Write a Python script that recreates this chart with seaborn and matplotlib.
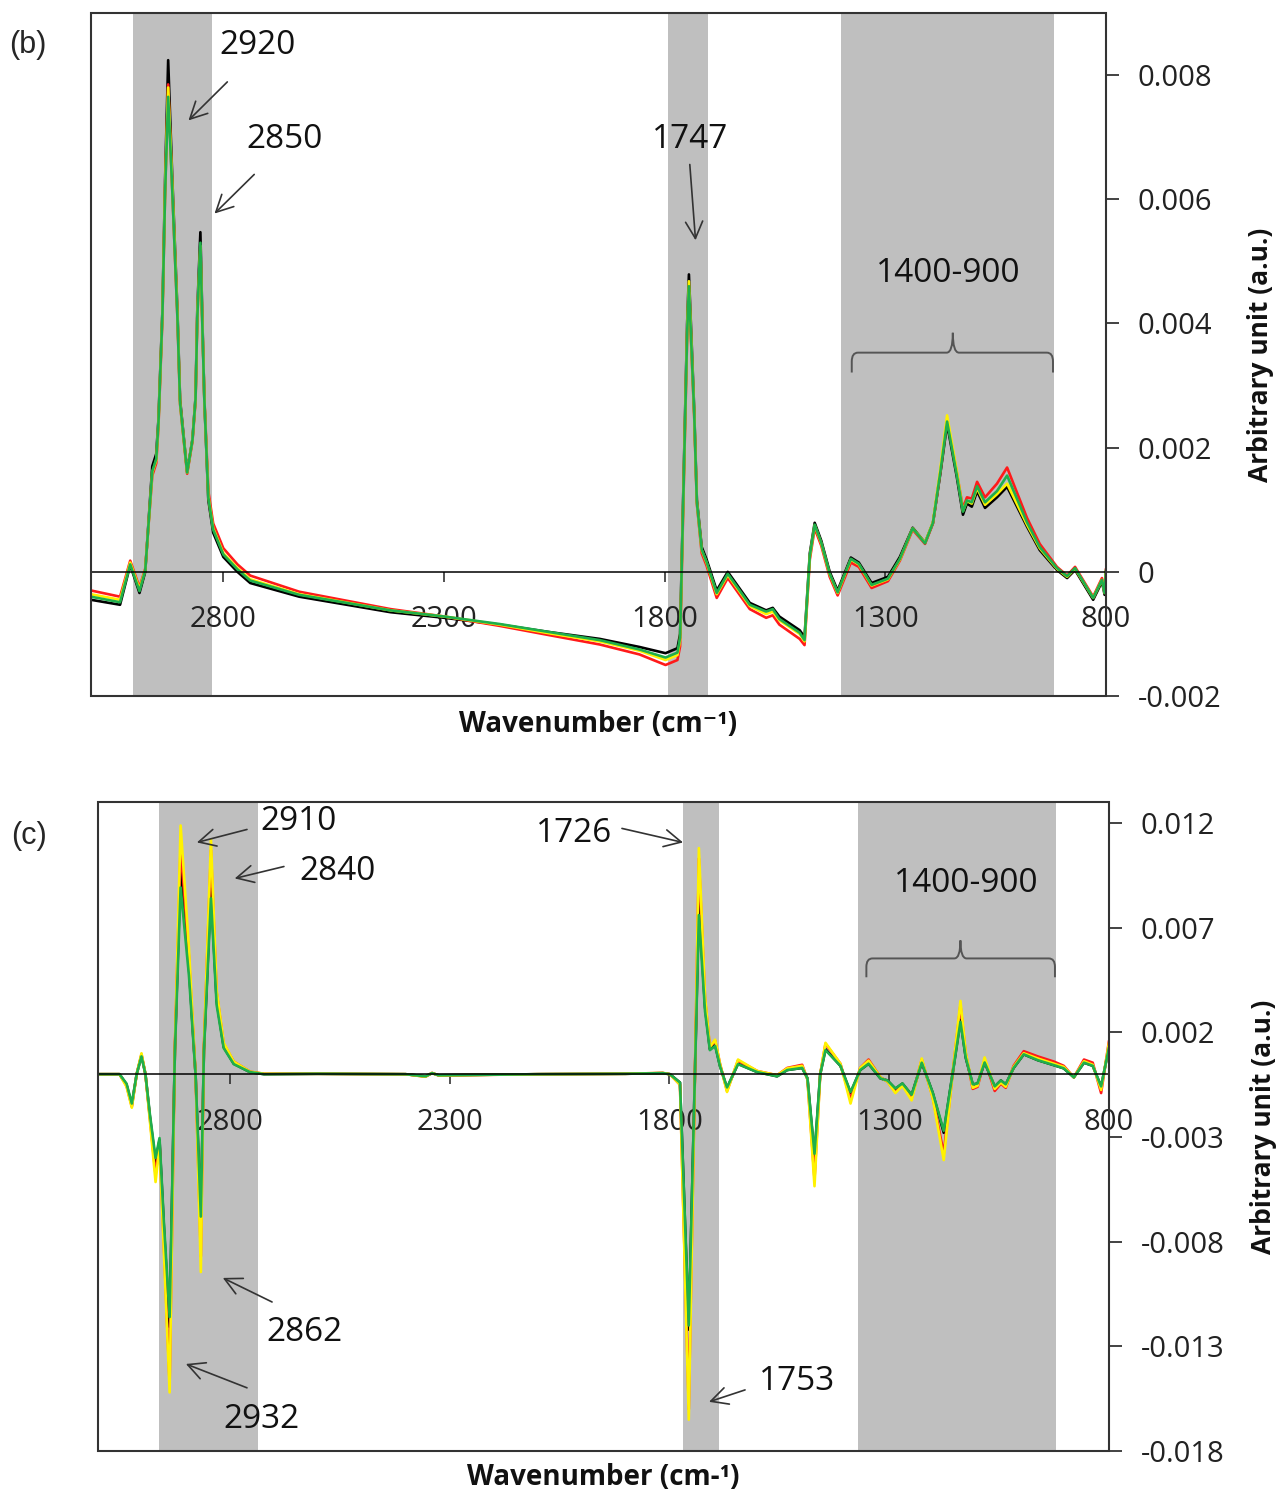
import numpy as np
import pandas as pd
import matplotlib
matplotlib.use("Agg")
import matplotlib.pyplot as plt
from matplotlib.patches import Rectangle, PathPatch
from matplotlib.path import Path
from matplotlib.ticker import FuncFormatter
import seaborn as sns

sns.set_style("white")
plt.rcParams["font.family"] = ["Open Sans", "DejaVu Sans"]

# ---------------- data (values in units of 1e-3 a.u.) ----------------
series_names = ["black", "red", "yellow", "green"]
series_colors = {"black": "#000000", "red": "#FF1A1A", "yellow": "#FFF200", "green": "#1FAF4B"}

wn_b = [3100, 3034, 3011, 2990, 2977, 2961, 2952, 2947, 2938, 2932,
        2925, 2916, 2904, 2898, 2882, 2870, 2863, 2859, 2852, 2848,
        2843, 2834, 2823, 2800, 2768, 2739, 2628, 2421, 2299, 2174,
        2061, 1947, 1857, 1798, 1771, 1765, 1757, 1749, 1745, 1740,
        1733, 1727, 1716, 1705, 1682, 1657, 1607, 1570, 1555, 1540,
        1494, 1483, 1471, 1460, 1445, 1426, 1408, 1378, 1360, 1331,
        1294, 1267, 1238, 1210, 1192, 1175, 1160, 1138, 1124, 1115,
        1104, 1092, 1074, 1047, 1024, 979, 950, 911, 888, 870,
        829, 809, 803, 800]
black_b = [-0.45, -0.53, 0.11, -0.34, 0.00, 1.70, 1.90, 2.45, 4.20, 6.30,
           8.24, 6.40, 4.20, 2.77, 1.61, 2.13, 2.80, 4.20, 5.47, 4.20,
           2.77, 1.16, 0.63, 0.24, 0.00, -0.18, -0.40, -0.65, -0.74, -0.85,
           -0.97, -1.08, -1.21, -1.31, -1.23, -1.00, 1.50, 4.00, 4.79, 3.90,
           2.60, 1.16, 0.40, 0.20, -0.30, 0.00, -0.50, -0.62, -0.58, -0.72,
           -0.94, -1.05, 0.30, 0.79, 0.50, 0.00, -0.30, 0.23, 0.15, -0.18,
           -0.08, 0.24, 0.71, 0.47, 0.79, 1.60, 2.38, 1.53, 0.92, 1.10,
           1.05, 1.30, 1.03, 1.20, 1.37, 0.73, 0.35, 0.03, -0.10, 0.03,
           -0.45, -0.16, -0.37, 0.00]
red_b = [-0.30, -0.40, 0.18, -0.25, 0.05, 1.55, 1.75, 2.35, 4.10, 6.10,
         7.85, 6.20, 4.10, 2.70, 1.58, 2.10, 2.75, 4.10, 5.20, 4.10,
         2.80, 1.30, 0.78, 0.38, 0.12, -0.06, -0.32, -0.60, -0.72, -0.87,
         -1.02, -1.17, -1.33, -1.50, -1.42, -1.20, 1.30, 3.80, 4.50, 3.70,
         2.50, 1.10, 0.30, 0.10, -0.42, -0.10, -0.60, -0.74, -0.70, -0.85,
         -1.08, -1.18, 0.20, 0.70, 0.42, -0.08, -0.38, 0.15, 0.08, -0.26,
         -0.15, 0.18, 0.68, 0.45, 0.78, 1.62, 2.45, 1.60, 1.02, 1.20,
         1.18, 1.45, 1.20, 1.42, 1.68, 0.87, 0.45, 0.08, -0.06, 0.08,
         -0.40, -0.10, -0.30, 0.05]
yellow_b = [-0.36, -0.45, 0.15, -0.28, 0.03, 1.60, 1.80, 2.40, 4.15, 6.20,
            7.80, 6.30, 4.15, 2.72, 1.60, 2.12, 2.78, 4.15, 5.25, 4.15,
            2.78, 1.22, 0.70, 0.30, 0.06, -0.12, -0.36, -0.62, -0.72, -0.85,
            -0.99, -1.12, -1.27, -1.42, -1.34, -1.10, 1.40, 3.90, 4.68, 3.80,
            2.55, 1.12, 0.35, 0.15, -0.36, -0.05, -0.55, -0.68, -0.64, -0.78,
            -1.00, -1.12, 0.25, 0.75, 0.46, -0.04, -0.34, 0.20, 0.12, -0.22,
            -0.12, 0.20, 0.70, 0.47, 0.80, 1.68, 2.52, 1.62, 0.98, 1.14,
            1.10, 1.35, 1.08, 1.25, 1.42, 0.76, 0.38, 0.05, -0.08, 0.05,
            -0.42, -0.13, -0.34, 0.02]
green_b = [-0.40, -0.49, 0.12, -0.31, 0.02, 1.62, 1.82, 2.40, 4.15, 6.10,
           7.65, 6.20, 4.10, 2.72, 1.60, 2.12, 2.78, 4.10, 5.30, 4.10,
           2.78, 1.20, 0.68, 0.28, 0.04, -0.14, -0.37, -0.62, -0.72, -0.84,
           -0.97, -1.10, -1.25, -1.38, -1.30, -1.06, 1.40, 3.85, 4.60, 3.75,
           2.55, 1.12, 0.36, 0.16, -0.34, -0.03, -0.53, -0.64, -0.60, -0.76,
           -0.98, -1.10, 0.26, 0.76, 0.47, -0.03, -0.33, 0.21, 0.13, -0.21,
           -0.11, 0.21, 0.70, 0.46, 0.79, 1.62, 2.42, 1.56, 0.97, 1.15,
           1.12, 1.38, 1.12, 1.30, 1.55, 0.80, 0.40, 0.06, -0.07, 0.06,
           -0.42, -0.13, -0.34, 0.03]

wn_c = [3100, 3051, 3035, 3023, 3012, 3001, 2992, 2982, 2969, 2960,
        2950, 2937, 2925, 2912, 2893, 2878, 2866, 2859, 2843, 2830,
        2814, 2791, 2754, 2722, 2600, 2400, 2355, 2340, 2325, 2100,
        1900, 1815, 1799, 1776, 1756, 1742, 1733, 1719, 1708, 1696,
        1685, 1669, 1644, 1600, 1555, 1532, 1498, 1486, 1470, 1457,
        1445, 1411, 1388, 1366, 1347, 1320, 1304, 1286, 1270, 1249,
        1226, 1201, 1176, 1156, 1138, 1126, 1110, 1099, 1083, 1060,
        1046, 1035, 1017, 994, 962, 925, 903, 880, 857, 837,
        818, 800]
black_c = [0.00, 0.00, -0.50, -1.48, 0.00, 0.90, 0.00, -2.00, -4.20, -3.15,
           -7.30, -12.07, 1.15, 9.88, 5.10, 0.00, -7.10, 1.15, 8.87, 3.50,
           1.30, 0.50, 0.10, 0.00, 0.02, 0.00, -0.10, 0.05, -0.05, 0.00,
           0.02, 0.05, 0.00, -0.40, -12.20, 0.00, 8.20, 3.20, 1.20, 1.40,
           0.40, -0.67, 0.50, 0.10, -0.10, 0.20, 0.30, -0.20, -3.95, 0.00,
           1.20, 0.40, -0.90, 0.20, 0.50, -0.20, -0.30, -0.70, -0.45, -1.00,
           0.55, -0.90, -2.80, 0.00, 2.60, 0.80, -0.50, -0.45, 0.57, -0.60,
           -0.30, -0.50, 0.30, 0.95, 0.67, 0.43, 0.28, -0.15, 0.55, 0.40,
           -0.60, 1.30]
red_c = [0.00, 0.00, -0.55, -1.55, 0.00, 0.95, 0.00, -2.10, -4.80, -3.30,
         -8.20, -14.80, 1.30, 10.90, 5.60, 0.00, -8.70, 1.30, 10.70, 3.90,
         1.45, 0.60, 0.12, 0.02, 0.02, 0.00, -0.12, 0.06, -0.06, 0.00,
         0.02, 0.06, 0.00, -0.50, -16.00, 0.00, 10.30, 3.60, 1.30, 1.60,
         0.50, -0.80, 0.65, 0.15, -0.05, 0.30, 0.45, -0.25, -5.00, 0.00,
         1.45, 0.50, -1.20, 0.30, 0.70, -0.15, -0.35, -0.85, -0.50, -1.15,
         0.70, -1.10, -3.80, 0.00, 3.30, 1.00, -0.70, -0.60, 0.70, -0.80,
         -0.45, -0.65, 0.40, 1.10, 0.85, 0.60, 0.40, -0.15, 0.70, 0.55,
         -0.90, 1.60]
yellow_c = [0.00, 0.00, -0.60, -1.60, 0.00, 1.00, 0.00, -2.20, -5.15, -3.40,
            -8.50, -15.20, 1.30, 11.88, 6.00, 0.00, -9.45, 1.30, 11.20, 4.00,
            1.50, 0.60, 0.12, 0.02, 0.02, 0.00, -0.12, 0.06, -0.06, 0.00,
            0.02, 0.06, 0.00, -0.50, -16.50, 0.00, 10.80, 3.70, 1.30, 1.65,
            0.50, -0.85, 0.70, 0.15, -0.05, 0.28, 0.40, -0.25, -5.35, 0.00,
            1.50, 0.50, -1.40, 0.30, 0.65, -0.15, -0.35, -0.90, -0.55, -1.25,
            0.75, -1.15, -4.10, 0.00, 3.50, 1.05, -0.65, -0.55, 0.80, -0.70,
            -0.40, -0.60, 0.35, 1.00, 0.75, 0.50, 0.35, -0.15, 0.62, 0.45,
            -0.75, 1.50]
green_c = [0.00, 0.00, -0.45, -1.40, 0.00, 0.85, 0.00, -1.90, -4.00, -3.05,
           -7.10, -11.60, 1.10, 8.92, 4.70, 0.00, -6.80, 1.10, 8.40, 3.30,
           1.25, 0.48, 0.10, 0.00, 0.02, 0.00, -0.10, 0.05, -0.05, 0.00,
           0.02, 0.05, 0.00, -0.40, -12.00, 0.00, 7.60, 3.00, 1.15, 1.35,
           0.38, -0.63, 0.48, 0.10, -0.10, 0.20, 0.30, -0.20, -3.80, 0.00,
           1.15, 0.40, -0.85, 0.20, 0.50, -0.20, -0.30, -0.68, -0.44, -0.98,
           0.55, -0.88, -2.70, 0.00, 2.50, 0.80, -0.48, -0.44, 0.56, -0.58,
           -0.30, -0.48, 0.30, 0.95, 0.67, 0.43, 0.28, -0.15, 0.55, 0.40,
           -0.58, 1.28]

xticks = [2800, 2300, 1800, 1300, 800]
yticks_b = [-0.002, 0, 0.002, 0.004, 0.006, 0.008]
yticks_c = [-0.018, -0.013, -0.008, -0.003, 0.002, 0.007, 0.012]
shade_b = [(3004, 2825), (1793, 1702), (1401, 918)]
shade_c = [(2962, 2736), (1769, 1687), (1372, 921)]

# peak annotations: (label, text_xy, arrow_tail, arrow_head) in (wavenumber, 1e-3 a.u.)
ann_b = [("2920", (2723, 8.47), (2791, 7.89), (2879, 7.27)),
         ("2850", (2662, 6.97), (2730, 6.40), (2820, 5.77)),
         ("1747", (1743, 6.97), (1743, 6.56), (1730, 5.34))]
ann_c = [("2910", (2643, 12.07), (2761, 11.69), (2875, 11.07)),
         ("2840", (2556, 9.69), (2677, 9.92), (2789, 9.35)),
         ("1726", (2018, 11.50), (1908, 11.74), (1769, 11.07)),
         ("2862", (2631, -12.36), (2704, -10.88), (2816, -9.73)),
         ("2932", (2727, -16.50), (2761, -14.98), (2900, -13.84)),
         ("1753", (1509, -14.69), (1628, -15.08), (1710, -15.65))]
# brace: (left wn, right wn, centre wn, y, leg, tip, label x, label y)
brace_b = (1376, 920, 1147, 3.53, 0.32, 0.32, 1158, 4.81)
brace_c = (1352, 923, 1138, 5.53, 0.90, 0.86, 1124, 9.11)

S = 1e-3  # data are listed in milli-units


def make_df(wn, vals):
    rows = []
    for name, v in zip(series_names, vals):
        rows.append(pd.DataFrame({"wn": wn, "val": np.array(v) * S, "series": name}))
    return pd.concat(rows, ignore_index=True)


df_b = make_df(wn_b, [black_b, red_b, yellow_b, green_b])
df_c = make_df(wn_c, [black_c, red_c, yellow_c, green_c])

fig = plt.figure(figsize=(12.79, 14.93), dpi=100)
ax_b = fig.add_axes([0.0711, 0.5338, 0.7936, 0.4575])
ax_c = fig.add_axes([0.0766, 0.0281, 0.7905, 0.4347])

TICK_FS = 21
ANN_FS = 24
LAB_FS = 20
ANN_COLOR = "#333333"


def draw_brace(ax, br):
    xl, xr, xm, y, leg, tip = br[:6]
    cx = 14.0
    cy = leg * 0.45
    yy = y * S
    verts = [(xl, (y - leg) * S), (xl, (y - cy) * S),
             (xl, yy), (xl - cx, yy),
             (xm + cx, yy),
             (xm, yy), (xm, (y + tip) * S),
             (xm, yy), (xm - cx, yy),
             (xr + cx, yy),
             (xr, yy), (xr, (y - cy) * S),
             (xr, (y - leg) * S)]
    codes = [Path.MOVETO, Path.LINETO,
             Path.CURVE3, Path.CURVE3,
             Path.LINETO,
             Path.CURVE3, Path.CURVE3,
             Path.CURVE3, Path.CURVE3,
             Path.LINETO,
             Path.CURVE3, Path.CURVE3,
             Path.LINETO]
    ax.add_patch(PathPatch(Path(verts, codes), fill=False, edgecolor="#555555",
                           lw=1.4, zorder=4))


def style_panel(ax, df, ylim, yticks, shades, anns, brace, xlabel):
    for a, b in shades:
        ax.axvspan(a, b, color="#BFBFBF", lw=0, zorder=0)
    sns.lineplot(data=df, x="wn", y="val", hue="series", hue_order=series_names,
                 palette=series_colors, estimator=None, sort=False, lw=1.9,
                 legend=False, ax=ax, zorder=2)
    ax.set_xlim(3100, 800)
    ax.set_ylim(*ylim)
    ax.set_xticks(xticks)
    ax.set_yticks(yticks)
    ax.yaxis.set_major_formatter(FuncFormatter(lambda v, p: f"{v:g}" if abs(v) > 1e-12 else "0"))
    for s in ["top", "left"]:
        ax.spines[s].set_visible(False)
    ax.spines["bottom"].set_position(("data", 0))
    ax.spines["bottom"].set_color("#000000")
    ax.spines["bottom"].set_linewidth(1.1)
    ax.spines["right"].set_color("#333333")
    ax.spines["right"].set_linewidth(1.3)
    ax.add_patch(Rectangle((0, 0), 1, 1, transform=ax.transAxes, fill=False,
                           edgecolor="#333333", lw=1.5, zorder=5, clip_on=False))
    ax.yaxis.tick_right()
    ax.yaxis.set_label_position("right")
    ax.tick_params(axis="y", which="major", direction="out", length=9, width=1.2,
                   pad=14, labelsize=TICK_FS, colors="#222222", right=True, left=False)
    ax.tick_params(axis="x", which="major", direction="out", length=7, width=1.1,
                   pad=17, labelsize=TICK_FS, colors="#222222", bottom=True)
    ax.set_xlabel(xlabel, fontsize=LAB_FS, fontweight="bold", color="#111111")
    ax.xaxis.set_label_coords(0.5, -0.041)
    ax.xaxis.label.set_va("center")
    ax.set_ylabel("Arbitrary unit (a.u.)", fontsize=19, fontweight="bold",
                  color="#111111", labelpad=18)
    for lab, txy, tail, head in anns:
        ax.text(txy[0], txy[1] * S, lab, fontsize=ANN_FS, ha="center", va="center",
                color="#111111", zorder=6)
        ax.annotate("", xy=(head[0], head[1] * S), xytext=(tail[0], tail[1] * S),
                    arrowprops=dict(arrowstyle="->,head_length=0.55,head_width=0.28",
                                    color=ANN_COLOR, lw=1.2, shrinkA=0, shrinkB=0,
                                    mutation_scale=22), zorder=6)
    draw_brace(ax, brace)
    ax.text(brace[6], brace[7] * S, "1400-900", fontsize=ANN_FS, ha="center",
            va="center", color="#111111", zorder=6)


style_panel(ax_b, df_b, (-0.002, 0.009), yticks_b, shade_b, ann_b, brace_b,
            "Wavenumber (cm⁻¹)")
style_panel(ax_c, df_c, (-0.018, 0.013), yticks_c, shade_c, ann_c, brace_c,
            "Wavenumber (cm-¹)")

fig.text(28 / 1279, 1 - 45 / 1493, "(b)", fontsize=22, ha="center", va="center",
         family=["Liberation Sans", "DejaVu Sans"])
fig.text(29 / 1279, 1 - 836 / 1493, "(c)", fontsize=22, ha="center", va="center",
         family=["Liberation Sans", "DejaVu Sans"])

fig.savefig("out.png", dpi=100)
